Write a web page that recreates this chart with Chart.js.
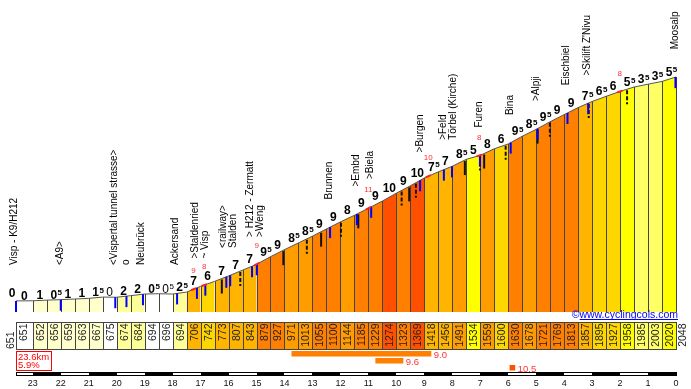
<!DOCTYPE html>
<html>
<head>
<meta charset="utf-8">
<title>Moosalp from Visp</title>
<script src="https://cdn.jsdelivr.net/npm/chart.js@4.4.1/dist/chart.umd.min.js"></script>
<style>
  html, body { margin: 0; padding: 0; background: #fff; }
  canvas { display: block; }
</style>
</head>
<body>
<canvas id="profile" width="691" height="389"></canvas>
<script>
// km still to ride at each column edge, and the altitude there
const kmPoints = [23.6, 23, 22.5, 22, 21.5, 21, 20.5, 20, 19.5, 19, 18.5, 18, 17.5, 17, 16.5, 16,
  15.5, 15, 14.5, 14, 13.5, 13, 12.5, 12, 11.5, 11, 10.5, 10, 9.5, 9, 8.5, 8, 7.5, 7, 6.5, 6,
  5.5, 5, 4.5, 4, 3.5, 3, 2.5, 2, 1.5, 1, 0.5, 0];
const elevations = [651, 652, 656, 659, 663, 667, 675, 674, 684, 694, 696, 694, 706, 742, 773, 807,
  843, 879, 927, 971, 1013, 1055, 1100, 1144, 1185, 1229, 1274, 1323, 1369, 1418, 1456, 1491, 1534, 1559, 1600, 1630,
  1678, 1721, 1769, 1813, 1857, 1895, 1927, 1958, 1985, 2003, 2020, 2048];

// places along the road
const placeKm = [23.67, 22.03, 20.1, 19.65, 19.11, 17.91, 17.02, 16.0, 15.05, 12.4, 11.44, 10.92,
  9.155, 8.14, 7.03, 5.94, 4.98, 3.91, 3.17, 0.04];
const placeNames = ['Visp - K9/H212', '<A9>', '<Vispertal tunnel strasse>', 'o', 'Neubrück', 'Ackersand',
  '>Staldenried\n~ Visp', '<railway>\nStalden', '> H212 - Zermatt\n>Weng', 'Brunnen', '>Embd', '>Biela',
  '>Burgen', '>Feld\nTörbel (Kirche)', 'Furen', 'Bina', '>Alpji', 'Eischbiel', ">Skilift Z'Nivu", 'Moosalp'];

// road marks under the profile
const blueKm = [23.6, 22.0, 20.05, 19.65, 19.06, 17.84, 17.13, 16.83, 16.08, 15.94, 15.16, 14.99,
  12.37, 11.41, 10.9, 9.15, 8.3, 8.01, 7.01, 5.91, 4.95, 3.88, 3.14, 0.02];
const blackSolidKm = [16.24, 14.04, 12.69, 11.36, 9.54, 7.55, 6.86, 4.95];
const blackDashedKm = [15.58, 13.2, 11.98, 9.81, 9.3, 7.01, 6.09, 4.51, 3.12, 1.75];

// steepest 100 m spots
const peakKm = [17.25, 16.87, 14.99, 11.0, 8.86, 7.04, 2.01];
const peakGrade = [9, 8, 9, 11, 10, 8, 8];

// steepest sections
const steepFrom = [13.75, 10.75, 5.95];
const steepTo = [8.75, 9.75, 5.75];
const steepGrade = [9.0, 9.6, 10.5];

const FONT = 'Liberation Sans';

const grades = elevations.slice(0, -1).map((e, i) =>
  (elevations[i + 1] - e) / ((kmPoints[i] - kmPoints[i + 1]) * 10));

function gradeColor(g) {
  if (g < 0.5) return '#ffffff';
  if (g < 1.8) return '#ffffcc';
  if (g < 3) return '#ffff99';
  if (g < 4.5) return '#ffff66';
  if (g < 5.8) return '#ffff00';
  if (g < 6.6) return '#ffd700';
  if (g < 8) return '#ffb400';
  if (g < 8.7) return '#ff9c00';
  if (g < 9.7) return '#ff7f00';
  return '#ff5000';
}

function elevAt(km) {
  for (let i = 0; i < kmPoints.length - 1; i++) {
    if (km <= kmPoints[i] && km >= kmPoints[i + 1]) {
      const t = (kmPoints[i] - km) / (kmPoints[i] - kmPoints[i + 1]);
      return elevations[i] + t * (elevations[i + 1] - elevations[i]);
    }
  }
  return km > kmPoints[0] ? elevations[0] : elevations[elevations.length - 1];
}

function upText(ctx, text, x, y, align) {
  ctx.save();
  ctx.translate(x, y);
  ctx.rotate(-Math.PI / 2);
  ctx.textAlign = align;
  ctx.fillText(text, 0, 0);
  ctx.restore();
}

function gradeLabel(ctx, g, cx, bottom) {
  const r = Math.round(Math.abs(g) * 2) / 2;
  const whole = Math.floor(r);
  const weight = g < 0 ? 'normal' : 'bold';
  ctx.fillStyle = '#000';
  ctx.textBaseline = 'alphabetic';
  ctx.font = weight + ' 12px ' + FONT;
  ctx.textAlign = 'center';
  ctx.fillText(String(whole), cx, bottom);
  if (r > whole) {
    const w = ctx.measureText(String(whole)).width;
    ctx.font = weight + ' 8px ' + FONT;
    ctx.textAlign = 'left';
    ctx.fillText('5', cx + w / 2 + 0.5, bottom - 3.5);
  }
}

const decor = {
  id: 'decor',
  afterDatasetsDraw(chart) {
    const { ctx, chartArea: area, scales: { x, y } } = chart;
    const px = km => x.getPixelForValue(km);
    const py = km => y.getPixelForValue(elevAt(km));
    const base = area.bottom;
    ctx.save();

    // column edges
    ctx.strokeStyle = '#444';
    ctx.lineWidth = 1;
    kmPoints.forEach((km, i) => {
      const xx = Math.round(px(km)) + 0.5;
      ctx.beginPath();
      ctx.moveTo(xx, y.getPixelForValue(elevations[i]));
      ctx.lineTo(xx, base);
      ctx.stroke();
    });

    // marks
    ctx.lineWidth = 2;
    ctx.strokeStyle = '#111';
    blackSolidKm.forEach(km => {
      ctx.beginPath();
      ctx.moveTo(px(km), py(km) + 1);
      ctx.lineTo(px(km), py(km) + 15);
      ctx.stroke();
    });
    ctx.setLineDash([4, 2]);
    blackDashedKm.forEach(km => {
      ctx.beginPath();
      ctx.moveTo(px(km), py(km) + 1);
      ctx.lineTo(px(km), py(km) + 15);
      ctx.stroke();
    });
    ctx.setLineDash([]);
    ctx.strokeStyle = '#0000ff';
    blueKm.forEach(km => {
      ctx.beginPath();
      ctx.moveTo(px(km), py(km));
      ctx.lineTo(px(km), py(km) + 11);
      ctx.stroke();
    });

    // steepest spots
    ctx.strokeStyle = '#ff2020';
    peakKm.forEach(km => {
      ctx.beginPath();
      ctx.moveTo(px(km + 0.09), py(km + 0.09));
      ctx.lineTo(px(km - 0.09), py(km - 0.09));
      ctx.stroke();
    });
    ctx.fillStyle = '#ff3030';
    ctx.font = '8px ' + FONT;
    ctx.textAlign = 'center';
    ctx.textBaseline = 'middle';
    peakKm.forEach((km, i) => ctx.fillText(String(peakGrade[i]), px(km), py(km) - 18));

    // gradient per column
    gradeLabel(ctx, 0, px(kmPoints[0]) - 4, y.getPixelForValue(elevations[0]) - 4);
    grades.forEach((g, i) => {
      const cx = (px(kmPoints[i]) + px(kmPoints[i + 1])) / 2;
      const top = Math.min(y.getPixelForValue(elevations[i]), y.getPixelForValue(elevations[i + 1]));
      gradeLabel(ctx, g, cx, top - 1);
    });

    // place names
    ctx.fillStyle = '#000';
    ctx.font = '10px ' + FONT;
    ctx.textBaseline = 'middle';
    placeKm.forEach((km, i) => {
      const lines = placeNames[i].split('\n');
      const bottom = Math.min(py(km) - 28, base - 47);
      lines.forEach((line, j) => {
        const cx = px(km) + (j - (lines.length - 1) / 2) * 10;
        upText(ctx, line, cx, bottom, 'left');
      });
    });

    // copyright
    ctx.fillStyle = '#0000ee';
    ctx.strokeStyle = '#0000ee';
    ctx.lineWidth = 1;
    ctx.font = '10.5px ' + FONT;
    ctx.textAlign = 'right';
    ctx.textBaseline = 'alphabetic';
    const cr = '©www.cyclingcols.com';
    const crRight = px(0) + 2;
    ctx.fillText(cr, crRight, base + 5.5);
    const crW = ctx.measureText(cr).width;
    ctx.beginPath();
    ctx.moveTo(crRight - crW + 8, base + 7.5);
    ctx.lineTo(crRight, base + 7.5);
    ctx.stroke();

    // altitude table
    const tTop = base + 10;
    const tH = 27;
    ctx.font = '10.5px ' + FONT;
    ctx.textBaseline = 'top';
    for (let i = 0; i < kmPoints.length - 1; i++) {
      const x0 = Math.round(px(kmPoints[i])) + 0.5;
      const x1 = Math.round(px(kmPoints[i + 1])) + 0.5;
      ctx.fillStyle = gradeColor(grades[i]);
      ctx.fillRect(x0, tTop, x1 - x0, tH);
      ctx.strokeStyle = '#444';
      ctx.strokeRect(x0, tTop + 0.5, x1 - x0, tH);
      ctx.fillStyle = '#222';
      upText(ctx, String(elevations[i]), x0 + 2, tTop + 1.5, 'right');
    }
    ctx.fillStyle = '#222';
    upText(ctx, String(elevations[0]), px(kmPoints[0]) - 10, tTop + tH, 'left');
    upText(ctx, String(elevations[elevations.length - 1]), px(0) + 2, tTop + 1.5, 'right');

    // total length and mean gradient
    const boxL = Math.round(px(kmPoints[0])) + 0.5;
    ctx.strokeStyle = '#ff0000';
    ctx.strokeRect(boxL, base + 39.5, 35, 19);
    ctx.fillStyle = '#ff0000';
    ctx.font = '9.5px ' + FONT;
    ctx.textAlign = 'left';
    ctx.textBaseline = 'alphabetic';
    const total = kmPoints[0] - kmPoints[kmPoints.length - 1];
    const mean = (elevations[elevations.length - 1] - elevations[0]) / (total * 10);
    ctx.fillText(total.toFixed(1) + 'km', boxL + 1.5, base + 48);
    ctx.fillText(mean.toFixed(1) + '%', boxL + 1.5, base + 56);

    // steepest sections
    steepGrade.forEach((g, i) => {
      const x0 = px(steepFrom[i]);
      const x1 = px(steepTo[i]);
      const yy = base + 39 + i * 7;
      ctx.fillStyle = gradeColor(g);
      ctx.fillRect(x0, yy, x1 - x0, 5.5);
      ctx.fillStyle = '#ff3333';
      ctx.font = '9.5px ' + FONT;
      ctx.fillText(g.toFixed(1), x1 + 2.5, yy + 6.5);
    });

    // distance bar
    const barY = base + 60.5;
    const bx0 = Math.round(px(kmPoints[0])) + 0.5;
    const bx1 = Math.round(px(0)) + 0.5;
    ctx.fillStyle = '#000';
    for (let k = 23; k > 0; k -= 2) {
      const a = Math.round(px(k));
      const b = Math.round(px(k - 1));
      ctx.fillRect(a, barY, b - a, 3);
    }
    ctx.strokeStyle = '#000';
    ctx.strokeRect(bx0, barY, bx1 - bx0, 3);

    ctx.restore();
  }
};

new Chart(document.getElementById('profile'), {
  type: 'line',
  data: {
    datasets: [{
      data: kmPoints.map((km, i) => ({ x: km, y: elevations[i] })),
      borderColor: '#555',
      borderWidth: 1,
      pointRadius: 0,
      fill: 'start',
      backgroundColor: '#ffffff',
      segment: {
        backgroundColor: c => gradeColor(grades[c.p0DataIndex])
      }
    }]
  },
  options: {
    responsive: false,
    animation: false,
    layout: { padding: { left: 16, right: 15, top: 0, bottom: 0 } },
    plugins: {
      legend: { display: false },
      tooltip: { enabled: false }
    },
    scales: {
      x: {
        type: 'linear',
        reverse: true,
        min: 0,
        max: 23.6,
        grid: { display: false, drawTicks: false },
        border: { display: false },
        ticks: {
          stepSize: 1,
          includeBounds: false,
          padding: 66,
          autoSkip: false,
          maxRotation: 0,
          color: '#111',
          font: { family: FONT, size: 9 }
        },
        // km labels sit under the table, so the axis keeps a fixed height
        afterFit: scale => {
          scale.height = 77;
          scale.paddingLeft = 0;
          scale.paddingRight = 0;
        }
      },
      y: { display: false, min: 582, max: 2528 }
    }
  },
  plugins: [decor]
});
</script>
</body>
</html>
